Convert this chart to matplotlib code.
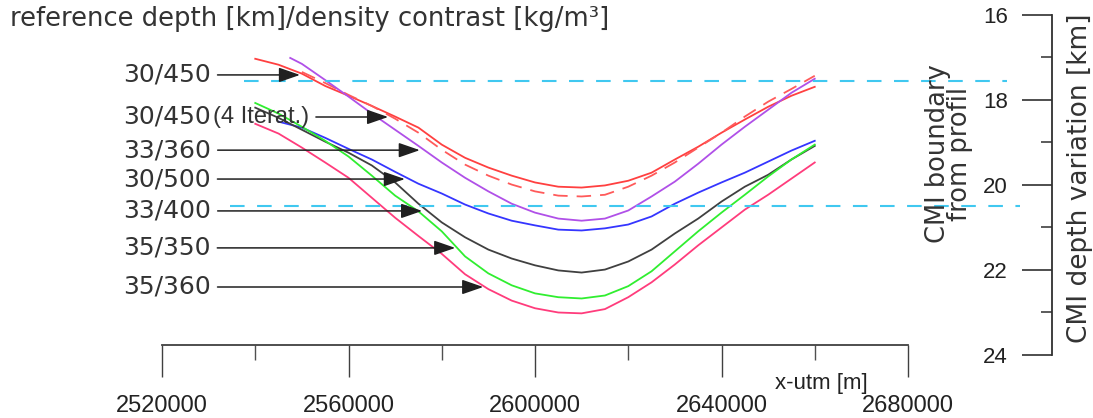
import matplotlib
matplotlib.use("Agg")
import matplotlib.pyplot as plt
from matplotlib.ticker import MultipleLocator

# profile positions (x-utm, m)
X_UTM = [2540000, 2545000, 2550000, 2555000, 2560000, 2565000, 2570000,
         2575000, 2580000, 2585000, 2590000, 2595000, 2600000, 2605000,
         2610000, 2615000, 2620000, 2625000, 2630000, 2635000, 2640000,
         2645000, 2650000, 2655000, 2660000]
X_PURPLE = [2547500] + X_UTM[2:]

# inverted CMI depth (km) per model, reference depth [km] / density contrast [kg/m3]
depth_30_450 = [17.03, 17.17, 17.38, 17.67, 17.90, 18.14, 18.39, 18.65, 19.05,
                19.36, 19.59, 19.78, 19.94, 20.04, 20.06, 20.01, 19.90, 19.71,
                19.40, 19.10, 18.77, 18.46, 18.16, 17.90, 17.69]
depth_30_450_dash = [17.34, 17.60, 17.88, 18.14, 18.44, 18.77, 19.17, 19.52,
                     19.78, 19.99, 20.15, 20.25, 20.27, 20.23, 20.04, 19.78,
                     19.47, 19.12, 18.77, 18.39, 18.04, 17.74, 17.43]
depth_30_450_iter = [17.01, 17.15, 17.53, 17.92, 18.32, 18.70, 19.08, 19.47,
                     19.83, 20.15, 20.44, 20.65, 20.79, 20.84, 20.79, 20.60,
                     20.27, 19.92, 19.50, 19.05, 18.63, 18.23, 17.83, 17.50]
depth_30_500 = [18.51, 18.65, 18.89, 19.15, 19.40, 19.69, 19.97, 20.20, 20.46,
                20.67, 20.84, 20.95, 21.05, 21.07, 21.02, 20.93, 20.74, 20.44,
                20.18, 19.94, 19.71, 19.45, 19.19, 18.96]
depth_33_400 = [18.18, 18.42, 18.70, 18.98, 19.24, 19.54, 19.94, 20.44, 20.88,
                21.23, 21.52, 21.73, 21.89, 22.01, 22.06, 21.99, 21.80, 21.52,
                21.14, 20.79, 20.39, 20.04, 19.76, 19.40, 19.08]
depth_35_350 = [18.07, 18.32, 18.63, 18.96, 19.33, 19.78, 20.25, 20.62, 21.09,
                21.68, 22.08, 22.36, 22.55, 22.64, 22.67, 22.60, 22.38, 22.03,
                21.56, 21.09, 20.65, 20.23, 19.80, 19.40, 19.05]
depth_35_360 = [18.56, 18.79, 19.12, 19.47, 19.83, 20.30, 20.77, 21.20, 21.62,
                22.10, 22.45, 22.72, 22.90, 23.00, 23.02, 22.92, 22.64, 22.29,
                21.87, 21.42, 21.00, 20.58, 20.23, 19.85, 19.47]

# CMI boundary depths taken from the seismic profile
boundary_depths = [17.55, 20.5]
boundary_x_start = [2537600, 2534600]
boundary_x_end = [2701300, 2704000]

# model labels and where their arrows point (x-utm, depth)
labels = ["30/450", "33/360", "30/500", "33/400", "35/350", "35/360"]
label_depths = [17.41, 19.18, 19.86, 20.61, 21.48, 22.40]
arrow_x = [2549600, 2575300, 2572100, 2575800, 2582900, 2588900]
iter_label = "(4 Iterat.)"
iter_depth = 18.40
iter_arrow_x = 2568500
label_x = 2511600
iter_label_x = 2530900

fig = plt.figure(figsize=(10.93, 4.18), dpi=100)
ax = fig.add_axes([162 / 1093, 63 / 418, 746 / 1093, 340 / 418])
ax2 = fig.add_axes([1022 / 1093, 63 / 418, 30 / 1093, 340 / 418])

lw = 1.3
ax.plot(X_UTM, depth_30_450, color="#ff4040", lw=lw)
ax.plot(X_UTM[2:], depth_30_450_dash, color="#ff5a5a", lw=lw, dashes=(8, 5))
ax.plot(X_PURPLE, depth_30_450_iter, color="#b050e8", lw=lw)
ax.plot(X_UTM[1:], depth_30_500, color="#3535ff", lw=lw)
ax.plot(X_UTM, depth_33_400, color="#404040", lw=lw)
ax.plot(X_UTM, depth_35_350, color="#30ee30", lw=lw)
ax.plot(X_UTM, depth_35_360, color="#ff3c7c", lw=lw)

for d, x0, x1 in zip(boundary_depths, boundary_x_start, boundary_x_end):
    ax.hlines(d, x0, x1, color="#40c8f0", lw=1.5, linestyles=(0, (7, 6)),
              clip_on=False)

arrow_style = dict(arrowstyle="-|>,head_length=1.3,head_width=0.45",
                   mutation_scale=10, color="#202020", lw=1.1,
                   shrinkA=3, shrinkB=0)
for text, d, x in zip(labels, label_depths, arrow_x):
    ax.annotate(text, xy=(x, d), xytext=(label_x, d), ha="left", va="center",
                fontsize=18, color="#333333", family="DejaVu Sans",
                arrowprops=arrow_style, annotation_clip=False)
ax.text(label_x, iter_depth, "30/450", ha="left", va="center", fontsize=18,
        color="#333333", family="DejaVu Sans")
ax.annotate(iter_label, xy=(iter_arrow_x, iter_depth),
            xytext=(iter_label_x, iter_depth), ha="left", va="center",
            fontsize=17, color="#333333", family="Liberation Sans",
            arrowprops=arrow_style, annotation_clip=False)

ax.set_xlim(2520000, 2680000)
ax.set_ylim(24, 16)
for side in ("top", "left", "right"):
    ax.spines[side].set_visible(False)
ax.spines["bottom"].set_position(("axes", 10 / 340))
ax.spines["bottom"].set_color("#404040")
ax.spines["bottom"].set_linewidth(1.3)
ax.set_yticks([])
ax.xaxis.set_major_locator(MultipleLocator(40000))
ax.xaxis.set_minor_locator(MultipleLocator(20000))
ax.tick_params(axis="x", which="major", direction="out", length=23, width=1,
               color="#404040", pad=13, labelsize=17, labelcolor="#222222")
ax.tick_params(axis="x", which="minor", direction="out", length=11, width=1,
               color="#505050")
ax.xaxis.set_major_formatter(plt.FuncFormatter(lambda v, _: f"{v:.0f}"))
for t in ax.get_xticklabels():
    t.set_family("Liberation Sans")
ax.patch.set_alpha(0)

# right-hand depth scale
ax2.set_ylim(24, 16)
for side in ("top", "left", "bottom"):
    ax2.spines[side].set_visible(False)
ax2.spines["right"].set_color("#303030")
ax2.spines["right"].set_linewidth(1.3)
ax2.set_xticks([])
ax2.yaxis.set_major_locator(MultipleLocator(2))
ax2.yaxis.set_minor_locator(MultipleLocator(1))
ax2.tick_params(axis="y", which="major", direction="in", length=21.5, width=1.2,
                left=False, right=True, labelleft=True, labelright=False,
                pad=10, labelsize=16, labelcolor="#222222", color="#303030")
ax2.tick_params(axis="y", which="minor", direction="in", length=8, width=1.2,
                left=False, right=True, color="#404040")
for t in ax2.get_yticklabels():
    t.set_family("Liberation Sans")
ax2.patch.set_alpha(0)

fig.text(10 / 1093, 1 - 6 / 418, "reference depth [km]/density contrast [kg/m\u00b3]",
         ha="left", va="top", fontsize=18.6, color="#333333", family="DejaVu Sans")
fig.text(821 / 1093, 1 - 384 / 418, "x-utm [m]", ha="center", va="center",
         fontsize=16, color="#222222", family="Liberation Sans")
fig.text(949 / 1093, 1 - 154 / 418, "CMI boundary\nfrom profil", rotation=90,
         ha="center", va="center", multialignment="center", linespacing=0.82,
         fontsize=18.5, color="#333333", family="DejaVu Sans")
fig.text(1080 / 1093, 1 - 178 / 418, "CMI depth variation [km]", rotation=90,
         ha="center", va="center", fontsize=19, color="#333333",
         family="DejaVu Sans")

fig.savefig("out.png", dpi=100, facecolor="white")
